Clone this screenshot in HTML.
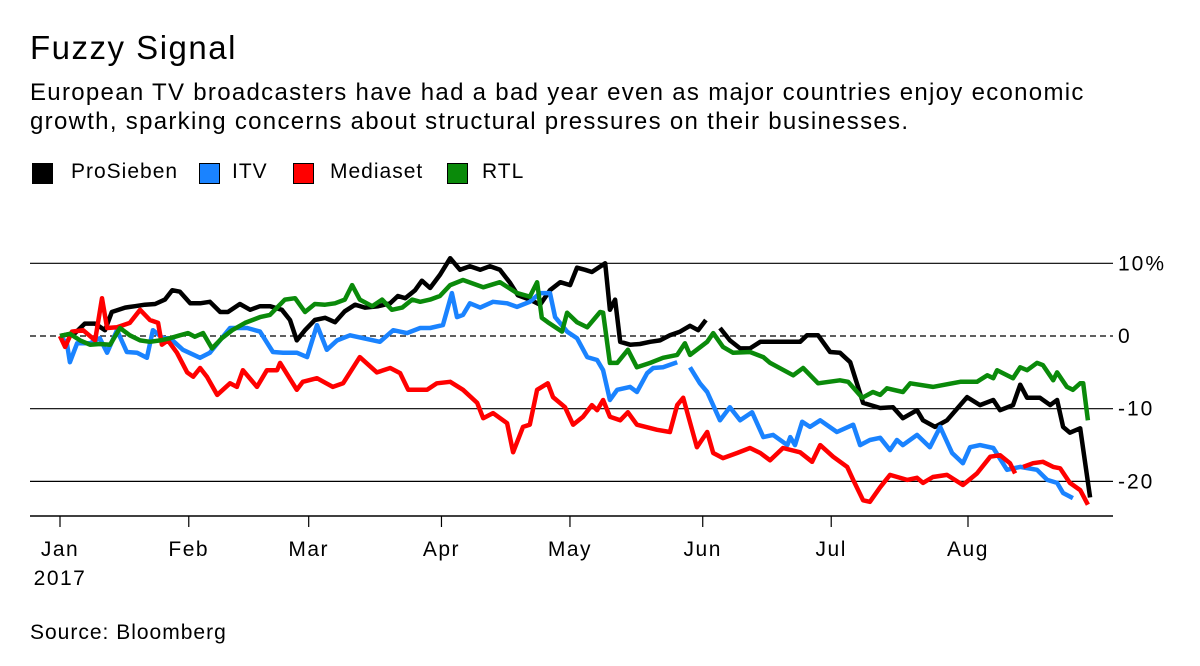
<!DOCTYPE html>
<html><head><meta charset="utf-8"><style>
body{margin:0;background:#fff;width:1200px;height:666px;overflow:hidden;font-family:"Liberation Sans",sans-serif;color:#000}
.t{position:absolute;white-space:nowrap}
.sw{position:absolute;width:21px;height:21px;top:163px;box-sizing:border-box;border:1px solid #000}
.lt{position:absolute;top:160px;font-size:21px;letter-spacing:1px;white-space:nowrap}
</style></head><body>
<div class="t" style="left:30px;top:29px;font-size:33px;letter-spacing:1.5px">Fuzzy Signal</div>
<div class="t" style="left:30px;top:78px;font-size:24px;letter-spacing:1.3px;line-height:29px">European TV broadcasters have had a bad year even as major countries enjoy economic<br>growth, sparking concerns about structural pressures on their businesses.</div>
<div>
<div class="sw" style="left:32px;background:#000"></div>
<div class="lt" style="left:71px">ProSieben</div>
<div class="sw" style="left:199px;background:#1a83ff"></div>
<div class="lt" style="left:232px">ITV</div>
<div class="sw" style="left:293px;background:#ff0000"></div>
<div class="lt" style="left:330px">Mediaset</div>
<div class="sw" style="left:447px;background:#0a8a0a"></div>
<div class="lt" style="left:482px">RTL</div>
</div>
<svg id="chart" width="1200" height="666" style="position:absolute;left:0;top:0" font-family="Liberation Sans, sans-serif"></svg>
<div class="t" style="left:30px;top:621px;font-size:21px;letter-spacing:1px">Source: Bloomberg</div>
<script>
const yTicks=[10,0,-10,-20];
const yTickLabels=["10%","0","-10","-20"];
const months=["Jan","Feb","Mar","Apr","May","Jun","Jul","Aug"];
const monthDays=[0,31,59,90,120,151,181,212];
const proDays=[0,3.5,5.8,8.2,10.5,12.1,15.2,17.5,19.8,22.2,24.5,26.2,28,30.4,32.7,35,37.4,39.2,42,44.4,46.7,49,51.8,53.7,55.3,57.2,59.5,61.9,64.2,66.5,68.9,71.2,74.3,77.1,78.9,80.6,82.9,84.5,86.4,88.7,91.1,93.4,95.7,98.1,100.4,102.7,105.1,106.9,109.7,112.1,114.4,116.8,119.1,120.7,122.6,124.2,127.3,128.4,129.6,130.8,133.1,135.4,137.8,140.1,142.4,144.8,147.1,149,150.8,152,154.1,156.4,158.8,161.1,163.5,166.5,172.8,174.4,177,179.8,182.1,184.5,187.5,191.5,194.5,196.8,200.1,201.5,204.3,207.1,211.8,214.8,217.9,219.5,222.5,224.2,225.8,228.8,231.2,232.8,234.2,235.8,238.2,240.5];
const proVals=[0,0.4,1.7,1.7,0.8,3.3,3.9,4.1,4.3,4.4,5,6.3,6.1,4.5,4.5,4.7,3.3,3.3,4.4,3.6,4.1,4.1,3.6,2.2,-0.6,0.8,2.2,2.5,1.9,3.4,4.3,3.9,4.1,4.5,5.5,5.2,6.3,7.6,6.6,8.4,10.7,9.1,9.6,9.1,9.6,9.1,7.3,5.6,5,4.3,6.3,7.4,7,9.4,9.1,8.8,10,3.6,5,-0.8,-1.2,-1.1,-0.8,-0.6,0.1,0.6,1.4,0.8,2.2,null,1.1,-0.6,-1.7,-1.7,-0.8,-0.8,-0.8,0.1,0.1,-2.2,-2.3,-3.6,-9.2,-9.9,-9.8,-11.3,-10.2,-11.6,-12.5,-11.6,-8.4,-9.5,-8.8,-10.2,-9.5,-6.7,-8.5,-8.5,-9.5,-8.8,-12.5,-13.3,-12.7,-22.2];
const itvDays=[0,1.6,2.3,4,7,9.3,11,13.3,15.6,18,20.3,21.7,24.1,25.7,28.7,32.7,35,39.7,43.7,46.7,49.7,52.1,55.3,57.7,60,62.3,64.7,67.7,70.8,74.7,77.8,81,84.1,86.4,89.4,91.5,92.7,94.1,95.7,98.1,101.1,104.4,106.7,109.7,112.1,114.4,115.6,118.4,120.7,123.1,125.4,126.8,128.4,130.1,133.1,134.7,137.1,138.5,140.8,144.1,145.5,147.1,149.4,151.1,154.1,156.4,158.8,161.6,164.2,166.5,169.8,170.5,171.6,173.3,175.1,177.5,181.4,185.2,186.8,189.1,191.5,193.8,195.4,196.8,200.1,203.1,205.5,208.3,210.8,212.5,214.8,217.9,221.1,224.2,228.1,230.5,232.8,234.2,236.5];
const itvVals=[0,-1,-3.6,-1,-1,-0.3,-2.3,0.8,-2.2,-2.3,-3,0.8,-0.3,-0.3,-1.9,-3,-2.3,1.1,1.1,0.6,-2.2,-2.3,-2.3,-2.9,1.5,-1.9,-0.6,0.1,-0.3,-0.8,0.8,0.4,1.1,1.1,1.5,5.9,2.6,2.9,4.5,3.9,4.7,4.5,4,4.7,5.9,5.9,2.6,0.6,-0.3,-2.9,-3.3,-4.7,-8.8,-7.4,-7,-7.7,-5.1,-4.4,-4.3,-3.6,null,-4.3,-6.5,-7.7,-11.6,-9.8,-11.6,-10.5,-13.9,-13.6,-15,-13.9,-15,-11.8,-12.5,-11.6,-13.2,-12.2,-15,-14.3,-14,-15.7,-14.3,-15,-13.6,-15.3,-12.5,-16.1,-17.5,-15.3,-15,-15.4,-18.4,-18,-18.4,-19.8,-20.2,-21.6,-22.3];
const medDays=[0,1.2,2.8,5.4,8.2,9.8,11,13.3,16.3,18.7,21,22.9,23.8,25.2,27.3,29.7,31.1,32.7,34.3,36.7,39.7,41.3,42.7,46,48.3,50.7,51.4,55.3,56.7,60,63.7,66.1,70,74,77.1,79.4,81.3,85.7,88,91.1,94.1,97.4,98.8,101.1,104.4,105.8,108.1,109.7,111.4,113.9,115.1,117.9,119.8,122.1,124.2,125.4,126.8,128.4,130.8,132.6,134.7,139.4,142.4,144.1,145.5,148.7,151.1,152.5,154.8,158.1,161.1,163.5,165.8,168.8,172.8,175.6,177.5,180.5,183.8,185.2,187.5,189.1,191.5,193.8,197.8,200.1,201.5,203.8,207.1,210.8,214.1,217.2,219.5,221.8,223,224,224.9,227.2,229.5,231.9,233.5,235.8,238.2,240];
const medVals=[0,-1.5,0.6,0.8,-0.6,5.2,1.1,1.2,1.8,3.6,2.2,1.8,-1.2,-0.6,-2.3,-5,-5.6,-4.4,-5.6,-8.1,-6.5,-7,-4.7,-7,-4.7,-4.7,-3.7,-7.4,-6.3,-5.8,-7,-6.5,-2.9,-5,-4.4,-5.1,-7.4,-7.4,-6.5,-6.3,-7.4,-9.2,-11.3,-10.6,-12,-16,-12.5,-12.2,-7.4,-6.5,-8.4,-9.8,-12.2,-11.1,-9.5,-10.2,-8.8,-11.1,-11.6,-10.5,-12.2,-12.9,-13.2,-9.5,-8.5,-15.3,-13.2,-16.1,-16.8,-16.1,-15.4,-16.1,-17.1,-15.4,-16,-17.3,-15,-16.6,-18,-19.8,-22.6,-22.8,-20.8,-19.1,-19.8,-19.5,-20.2,-19.4,-19.1,-20.5,-18.9,-16.6,-16.4,-17.5,-18.9,null,-18,-17.5,-17.3,-18,-18.2,-20.2,-21.2,-23.2];
const rtlDays=[0,2.3,4.7,7,9.3,11.7,14,16.3,18.7,21,23.4,25.7,28,29.9,31.5,33.4,35.5,37.8,40.2,43.2,46.7,49,52.5,54.9,57.2,59.5,61.9,64.2,66.5,68.2,70,72.9,75.2,77.5,79.9,82.2,84.1,86.4,88.7,91.1,94.1,98.8,102.7,106.7,109.7,111.4,112.5,113.9,117.2,118.4,120.7,123.1,126.1,126.8,128.4,130.1,132.6,134.7,137.8,140.8,144.1,145.9,147.1,151.1,152.5,154.8,157.1,161.1,164.2,165.8,171.2,173.5,177,182.1,184,187.3,189.8,191.5,193.1,196.8,198.5,203.8,210.2,214.1,216.5,217.9,218.8,222.5,224.2,225.8,228.1,229.5,231.9,232.8,235.1,236.5,238.2,238.9,240];
const rtlVals=[0,0.3,-0.6,-1.2,-1.1,-1.2,1.1,0.1,-0.6,-0.8,-0.6,-0.3,0.1,0.4,-0.1,0.4,-1.7,-0.3,0.8,1.8,2.6,2.9,5,5.2,3.3,4.4,4.3,4.5,5,7,5,4.1,5,3.6,3.9,5,4.7,5,5.5,7,7.7,6.7,7.4,5.9,5.4,7.4,2.5,1.9,0.6,3.2,1.9,1.2,3.3,3.2,-3.7,-3.7,-1.9,-4.3,-3.7,-3,-2.6,-1,-2.6,-0.8,0.4,-1.5,-2.3,-2.2,-2.9,-3.7,-5.4,-4.4,-6.5,-6.1,-6.3,-8.5,-7.7,-8.1,-7.2,-7.7,-6.5,-7,-6.3,-6.3,-5.4,-5.8,-4.7,-5.8,-4.3,-4.7,-3.7,-4,-6.1,-5,-7,-7.4,-6.5,-6.5,-11.6];

const NS="http://www.w3.org/2000/svg";
const svg=document.getElementById('chart');
const x=d=>60+d*4.283;
const y=v=>336-v*7.27;
function mk(tag,attrs){const e=document.createElementNS(NS,tag);for(const k in attrs)e.setAttribute(k,attrs[k]);svg.appendChild(e);return e;}
yTicks.forEach((t,i)=>{
  const l=mk('line',{x1:30,x2:1113,y1:y(t),y2:y(t),stroke:'#000','stroke-width':1.2,'stroke-dasharray':t===0?'6,4':'none'});
  
  
  const tx=mk('text',{x:1118,y:y(t)+7,'font-size':21,'letter-spacing':2});
  tx.textContent=yTickLabels[i];
  
  
});
const ax=mk('line',{x1:30,x2:1113,y1:516,y2:516,stroke:'#000','stroke-width':1.5});


months.forEach((m,i)=>{
  const px=x(monthDays[i])-(i>0&&i<7?4:0);
  const tk=mk('line',{x1:px,x2:px,y1:516,y2:527,stroke:'#000','stroke-width':1.2});
  
  
  const tx=mk('text',{x:px,y:556,'font-size':21,'letter-spacing':1.5,'text-anchor':'middle'});
  tx.textContent=m;
  
  
});
const yr=mk('text',{x:x(0),y:585,'font-size':21,'letter-spacing':1.5,'text-anchor':'middle'});
yr.textContent='2017';


function series(days,vals,color,name){
  let d='',pen=false;
  days.forEach((dd,i)=>{const v=vals[i];if(v===null){pen=false;return;}d+=(pen?'L':'M')+x(dd).toFixed(1)+','+y(v).toFixed(1);pen=true;});
  const p=mk('path',{d:d,fill:'none',stroke:color,'stroke-width':4.5,'stroke-linejoin':'round'});
  
  
}
series(proDays,proVals,'#000','prosieben-line');
series(itvDays,itvVals,'#1a83ff','itv-line');
series(medDays,medVals,'#ff0000','mediaset-line');
series(rtlDays,rtlVals,'#0a8a0a','rtl-line');
</script>
</body></html>
